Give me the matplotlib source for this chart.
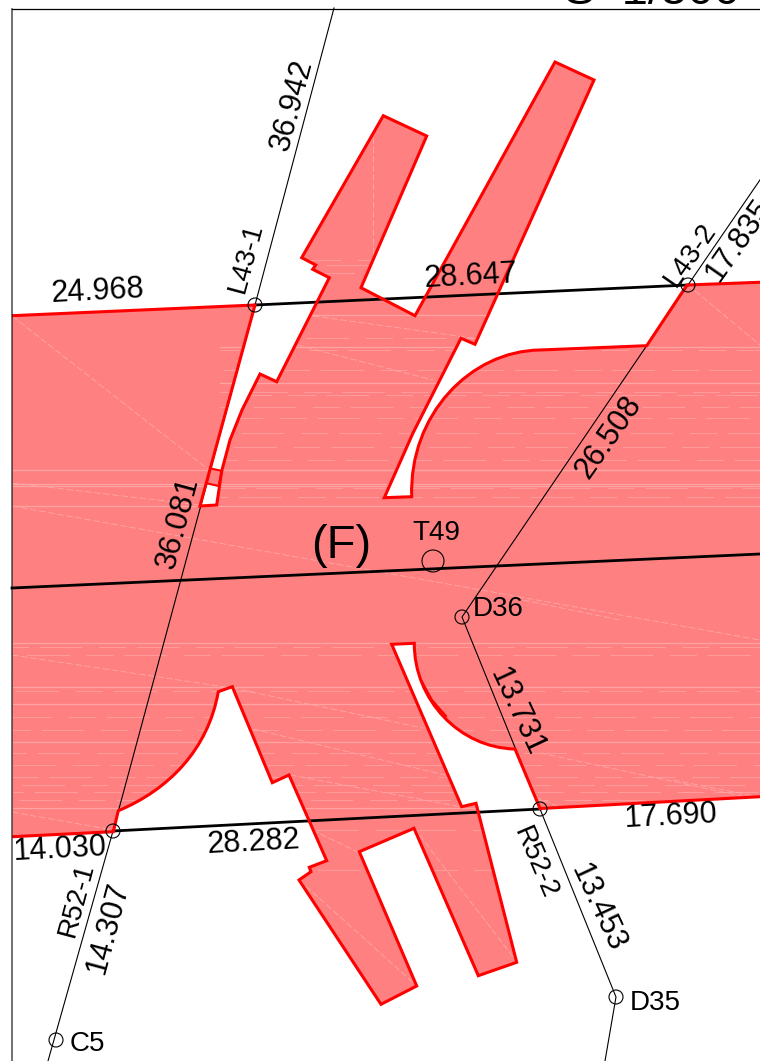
import matplotlib
matplotlib.use('Agg')
import matplotlib.pyplot as plt
from matplotlib.path import Path
from matplotlib.patches import PathPatch, Polygon, Circle

plt.rcParams['font.family'] = ['Liberation Sans Narrow', 'Liberation Sans', 'DejaVu Sans']

outline = [
    ('L', (12, 315.7)), ('L', (255, 305)), ('L', (200, 506)), ('L', (216.7, 505)),
    ('L', (221.7, 471)), ('L', (230, 440)), ('L', (242, 410)), ('L', (260, 374)),
    ('L', (276.7, 381.7)), ('L', (329.3, 277.7)), ('L', (312.7, 269.3)), ('L', (315.7, 265)),
    ('L', (301.7, 257.7)), ('L', (383.3, 115.7)), ('L', (426.7, 136)), ('L', (361, 287.7)),
    ('L', (415, 315.7)), ('L', (555, 62)), ('L', (594, 80)), ('L', (475, 344.3)),
    ('L', (461, 338.3)), ('L', (413, 433)), ('L', (384.3, 497.7)), ('L', (411.7, 496.7)),
    ('C', (409, 415)), ('C', (470, 351)), ('C', (540, 350)),
    ('L', (646.7, 345.7)), ('L', (687, 285)), ('L', (762, 282.2)), ('L', (762, 796.6)),
    ('L', (540, 808.5)), ('L', (515, 749)),
    ('C', (460, 748)), ('C', (414, 700)), ('C', (414.3, 643.3)),
    ('L', (391.7, 644.3)), ('L', (461.7, 806.7)), ('L', (476, 803.3)), ('L', (516.7, 962.3)),
    ('L', (478.3, 975.7)), ('L', (414, 828.3)), ('L', (359.3, 851.7)), ('L', (416.7, 986)),
    ('L', (381, 1004.3)), ('L', (299, 880)), ('L', (311, 871.7)), ('L', (309.3, 867.3)),
    ('L', (326.7, 860.7)), ('L', (289, 775)), ('L', (272.3, 782.7)), ('L', (232.3, 686.7)),
    ('L', (218.3, 691.7)),
    ('C', (208, 750)), ('C', (168, 790)), ('C', (118.3, 810.7)),
    ('L', (113.3, 831.7)), ('L', (12.3, 836.7)),
]
small_rect = [(210.3, 468.3), (222, 471), (218.5, 486), (206.7, 483.3)]

# survey lines
thick_lines = [
    [(255, 305), (688, 285)],
    [(12, 588), (760, 554)],
    [(113, 831), (540, 809)],
]
thin_lines = [
    [(334, 8), (255, 305), (113, 831), (48, 1061)],
    [(762, 177), (688, 285), (462, 617), (540, 809), (616, 997), (605, 1061)],
]
circles = [(255, 305, 7), (688, 285, 7), (433, 561, 11), (462, 617, 7),
           (540, 809, 7), (113, 831, 7), (616, 997, 7), (56, 1040, 7)]

# triangulation streaks inside the fill: y level, x start, x end
streak_y = [260, 265, 273, 315, 338,
            347, 350, 370, 383, 392, 395, 407, 418, 433, 447, 460, 470, 488, 497,
            470, 484, 485.5, 505.5,
            643, 647, 655, 687, 691, 704, 717, 730, 742, 753, 765, 777, 785, 792, 800, 808, 830, 870]
streak_x0 = [300, 300, 300, 300, 300,
             220, 220, 220, 220, 220, 220, 220, 220, 220, 220, 220, 220, 220, 220,
             12, 12, 12, 12,
             12, 12, 12, 12, 12, 12, 12, 12, 12, 12, 12, 12, 12, 12, 12, 12, 300, 300]
streak_x1 = [440, 440, 440, 490, 490,
             760, 760, 760, 760, 760, 760, 760, 760, 760, 760, 760, 760, 760, 760,
             760, 760, 760, 760,
             760, 760, 760, 760, 760, 760, 760, 760, 760, 760, 760, 760, 760, 760, 760, 520, 520, 520]
streak_solid = [0, 0, 0, 1, 0,
                1, 0, 0, 1, 0, 0, 0, 0, 0, 0, 0, 1, 0, 0,
                1, 1, 1, 1,
                1, 0, 0, 1, 0, 1, 0, 0, 1, 0, 0, 0, 0, 0, 0, 1, 0, 0]
streak_dash = [41, 12, 27, 3, 33, 19, 8, 36, 22, 14, 30, 5, 39, 17, 25, 10, 34, 2, 20, 28,
               7, 37, 15, 31, 11, 24, 4, 35, 18, 42, 9, 26, 13, 38, 1, 29, 16, 32, 6, 23, 21]

diagonals = [
    [(12, 316), (209, 470)], [(688, 285), (760, 345)], [(12, 483), (200, 505)],
    [(12, 506), (760, 640)], [(297, 345), (433, 380)], [(313, 316), (473, 338)],
    [(12, 655), (232, 688)], [(232, 688), (423, 728)], [(253, 729), (445, 775)],
    [(290, 775), (462, 807)], [(312, 830), (358, 852)], [(373, 137), (373, 257)],
    [(299, 880), (417, 986)], [(414, 828), (517, 962)], [(12, 812), (113, 830)],
    [(673, 780), (760, 797)], [(535, 797), (557, 806)], [(523, 600), (620, 620)],
    [(540, 753), (760, 800)],
]

labels = ['24.968', '28.647', '36.942', '17.835', '26.508', '36.081',
          '13.731', '13.453', '17.690', '28.282', '14.030', '14.307']
label_x = [98, 471, 292, 739, 609, 178, 517, 598, 671, 254, 60, 108]
label_y = [292, 277, 105, 240, 437, 523, 712, 908, 817, 843, 850, 928]
label_rot = [3, 3, 75, 55, 55, 75, -65, -65, 3, 3, 3, 75]

names = ['L43-1', 'L43-2', 'T49', 'D36', 'R52-2', 'R52-1', 'D35', 'C5']
name_x = [246, 690, 436, 498, 535, 77, 655, 87]
name_y = [258, 255, 533, 609, 863, 900, 1003, 1044]
name_rot = [75, 55, 0, 0, -67, 75, 0, 0]

fig = plt.figure(figsize=(7.6, 10.61), dpi=100)
ax = fig.add_axes([0, 0, 1, 1])
ax.set_xlim(0, 760)
ax.set_ylim(1061, 0)
ax.axis('off')

verts = [p for _, p in outline]
codes = [Path.MOVETO] + [Path.LINETO if k == 'L' else Path.CURVE4 for k, _ in outline[1:]]
site = Path(verts, codes)

ax.add_patch(PathPatch(site, facecolor='#ff8080', edgecolor='none', zorder=1))
clip = PathPatch(site, transform=ax.transData)

for y, x0, x1, solid, off in zip(streak_y, streak_x0, streak_x1, streak_solid, streak_dash):
    if solid:
        ln, = ax.plot([x0, x1], [y, y], color='#ffa4a4', lw=0.9, zorder=2)
    else:
        ln, = ax.plot([x0, x1], [y, y], color='#ff9c9c', lw=0.7, ls=(off, (28, 11, 44, 17)), zorder=2)
    ln.set_clip_path(clip)
for seg in diagonals:
    xs, ys = zip(*seg)
    ln, = ax.plot(xs, ys, color='#ffa8a8', lw=0.6, ls=(0, (8, 3)), zorder=2)
    ln.set_clip_path(clip)

for pts in thick_lines:
    xs, ys = zip(*pts)
    ax.plot(xs, ys, color='black', lw=2.0, zorder=2.5)
for pts in thin_lines:
    xs, ys = zip(*pts)
    ax.plot(xs, ys, color='black', lw=0.8, zorder=2.6)

ax.add_patch(Polygon(small_rect, closed=True, facecolor='#ff8080', edgecolor='#ff0000', lw=1.5, zorder=3))
ax.add_patch(PathPatch(site, facecolor='none', edgecolor='#ff0000', lw=2.2, joinstyle='miter', zorder=3))

# the curve is drawn twice on the plan around here
ax.plot([421, 432, 446], [680, 700, 716], color='#ff0000', lw=1.5, zorder=3)

# drawing frame
ax.plot([12, 12], [8.5, 1061], color='black', lw=1.2, alpha=0.65, zorder=4)
ax.plot([12, 760], [8.5, 8.5], color='black', lw=0.9, zorder=4)

for cx, cy, r in circles:
    ax.add_patch(Circle((cx, cy), r, facecolor='none', edgecolor='black', lw=0.8, zorder=5))

for s, x, y, r in zip(labels, label_x, label_y, label_rot):
    ax.text(x, y, s, rotation=r, rotation_mode='anchor', ha='center', va='center',
            fontsize=22, color='black', zorder=6)
for s, x, y, r in zip(names, name_x, name_y, name_rot):
    ax.text(x, y, s, rotation=r, rotation_mode='anchor', ha='center', va='center',
            fontsize=20, color='black', zorder=6)
ax.text(341, 546, '(F)', ha='center', va='center', fontsize=34, color='black', zorder=6)
ax.text(652, -8, 'S  1/500', ha='center', va='center', fontsize=34, color='black', zorder=6)

fig.savefig('out.png', dpi=100)
